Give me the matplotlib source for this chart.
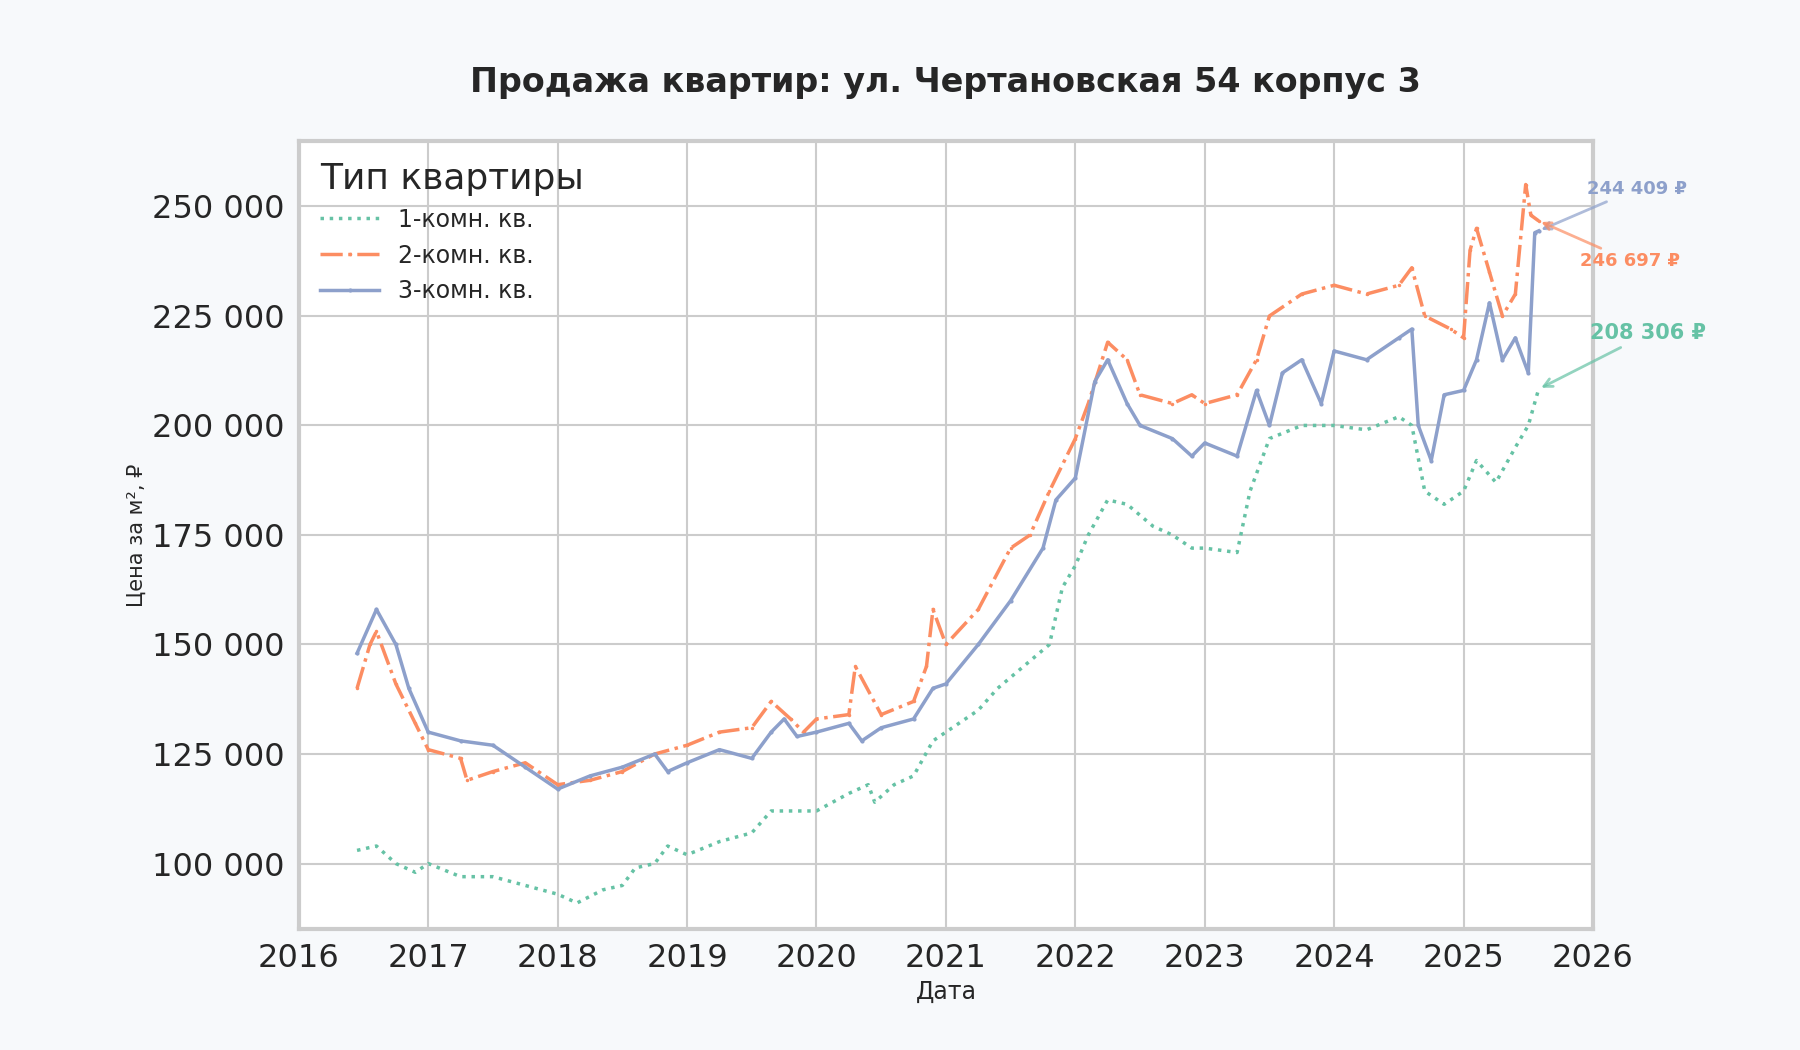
import matplotlib.pyplot as plt
from matplotlib.ticker import FuncFormatter

# значения (год в долях, цена за м2)
t3 = [2016.45, 2016.6, 2016.75, 2016.85, 2017.0, 2017.25, 2017.5, 2017.75, 2018.0, 2018.25, 2018.5,
      2018.75, 2018.85, 2019.0, 2019.25, 2019.5, 2019.65, 2019.75, 2019.85, 2020.0, 2020.25, 2020.35,
      2020.5, 2020.75, 2020.9, 2021.0, 2021.25, 2021.5, 2021.75, 2021.85, 2022.0, 2022.15, 2022.25,
      2022.4, 2022.5, 2022.75, 2022.9, 2023.0, 2023.25, 2023.4, 2023.5, 2023.6, 2023.75, 2023.9,
      2024.0, 2024.25, 2024.5, 2024.6, 2024.65, 2024.75, 2024.85, 2025.0, 2025.1, 2025.2, 2025.3,
      2025.4, 2025.5, 2025.55, 2025.58]
p3 = [148000, 158000, 150000, 140000, 130000, 128000, 127000, 122000, 117000, 120000, 122000,
      125000, 121000, 123000, 126000, 124000, 130000, 133000, 129000, 130000, 132000, 128000,
      131000, 133000, 140000, 141000, 150000, 160000, 172000, 183000, 188000, 210000, 215000,
      205000, 200000, 197000, 193000, 196000, 193000, 208000, 200000, 212000, 215000, 205000,
      217000, 215000, 220000, 222000, 200000, 192000, 207000, 208000, 215000, 228000, 215000,
      220000, 212000, 244000, 244409]

t2 = [2016.45, 2016.55, 2016.6, 2016.75, 2016.9, 2017.0, 2017.25, 2017.3, 2017.5, 2017.75, 2018.0,
      2018.25, 2018.5, 2018.75, 2019.0, 2019.25, 2019.5, 2019.65, 2019.8, 2019.9, 2020.0, 2020.25,
      2020.3, 2020.5, 2020.75, 2020.85, 2020.9, 2021.0, 2021.25, 2021.5, 2021.65, 2021.8, 2022.0,
      2022.1, 2022.25, 2022.4, 2022.5, 2022.75, 2022.9, 2023.0, 2023.25, 2023.4, 2023.5, 2023.75,
      2024.0, 2024.25, 2024.5, 2024.6, 2024.7, 2024.9, 2025.0, 2025.05, 2025.1, 2025.2, 2025.3,
      2025.4, 2025.48, 2025.52, 2025.58]
p2 = [140000, 150000, 153000, 141000, 132000, 126000, 124000, 119000, 121000, 123000, 118000,
      119000, 121000, 125000, 127000, 130000, 131000, 137000, 133000, 130000, 133000, 134000,
      145000, 134000, 137000, 145000, 158000, 150000, 158000, 172000, 175000, 185000, 197000,
      205000, 219000, 215000, 207000, 205000, 207000, 205000, 207000, 215000, 225000, 230000,
      232000, 230000, 232000, 236000, 225000, 222000, 220000, 240000, 245000, 235000, 225000,
      230000, 255000, 248000, 246697]

t1 = [2016.45, 2016.6, 2016.75, 2016.9, 2017.0, 2017.25, 2017.5, 2017.75, 2018.0, 2018.15, 2018.35,
      2018.5, 2018.6, 2018.75, 2018.85, 2019.0, 2019.25, 2019.5, 2019.65, 2019.8, 2020.0, 2020.25,
      2020.4, 2020.45, 2020.6, 2020.75, 2020.9, 2021.0, 2021.25, 2021.4, 2021.6, 2021.8, 2021.9,
      2022.0, 2022.1, 2022.25, 2022.4, 2022.6, 2022.75, 2022.9, 2023.0, 2023.25, 2023.35, 2023.5,
      2023.75, 2024.0, 2024.25, 2024.5, 2024.6, 2024.7, 2024.85, 2025.0, 2025.1, 2025.25, 2025.4,
      2025.5, 2025.58]
p1 = [103000, 104000, 100000, 98000, 100000, 97000, 97000, 95000, 93000, 91000, 94000,
      95000, 99000, 100000, 104000, 102000, 105000, 107000, 112000, 112000, 112000, 116000,
      118000, 114000, 118000, 120000, 128000, 130000, 135000, 140000, 145000, 150000, 163000,
      168000, 175000, 183000, 182000, 177000, 175000, 172000, 172000, 171000, 185000, 197000,
      200000, 200000, 199000, 202000, 200000, 185000, 182000, 185000, 192000, 187000, 195000,
      200000, 208306]

green = '#66c2a5'
orange = '#fc8d62'
blue = '#8da0cb'
txt = '#262626'

fig = plt.figure(figsize=(18, 10.5), dpi=100, facecolor='#f7f9fb')
ax = fig.add_axes([0.166, 0.115, 0.719, 0.751])
ax.set_facecolor('white')

ax.plot(t1, p1, color=green, linestyle=':', linewidth=2.5, label='1-комн. кв.')
ax.plot(t2, p2, color=orange, linestyle='-.', linewidth=2.5, marker='.', markersize=3, label='2-комн. кв.')
ax.plot(t3, p3, color=blue, linestyle='-', linewidth=2.5, marker='.', markersize=4, label='3-комн. кв.')

ax.set_xlim(2016, 2026)
ax.set_ylim(85000, 265000)
ax.set_xticks(range(2016, 2027))
ax.set_yticks(range(100000, 260000, 25000))
ax.yaxis.set_major_formatter(FuncFormatter(lambda v, p: f'{int(v):,}'.replace(',', ' ')))
ax.tick_params(labelsize=23, length=0, pad=10, labelcolor=txt)
ax.grid(True, color='#cccccc', linewidth=1.5)
for s in ax.spines.values():
    s.set_color('#cccccc')
    s.set_linewidth(3)

ax.set_xlabel('Дата', fontsize=17, color=txt)
ax.set_ylabel('Цена за м², ₽', fontsize=15, color=txt)
ax.set_title('Продажа квартир: ул. Чертановская 54 корпус 3', fontsize=24, fontweight='bold',
             color=txt, pad=35)

leg = ax.legend(title='Тип квартиры', loc='upper left', fontsize=17, title_fontsize=26,
                frameon=False, handlelength=2.5, alignment='left', labelcolor=txt)
leg.get_title().set_color(txt)

# подписи последних значений
ax.annotate('244 409 ₽', xy=(t3[-1], p3[-1]), xytext=(2025.95, 254000), color=blue, fontsize=13,
            fontweight='bold', ha='left', va='center', annotation_clip=False,
            arrowprops=dict(arrowstyle='->', color=blue, alpha=0.7, lw=2))
ax.annotate('246 697 ₽', xy=(t2[-1], p2[-1]), xytext=(2025.9, 237500), color=orange, fontsize=13,
            fontweight='bold', ha='left', va='center', annotation_clip=False,
            arrowprops=dict(arrowstyle='->', color=orange, alpha=0.7, lw=2))
ax.annotate('208 306 ₽', xy=(t1[-1], p1[-1]), xytext=(2025.98, 221000), color=green, fontsize=15,
            fontweight='bold', ha='left', va='center', annotation_clip=False,
            arrowprops=dict(arrowstyle='->', color=green, alpha=0.7, lw=2))

fig.savefig('out.png', facecolor=fig.get_facecolor())
